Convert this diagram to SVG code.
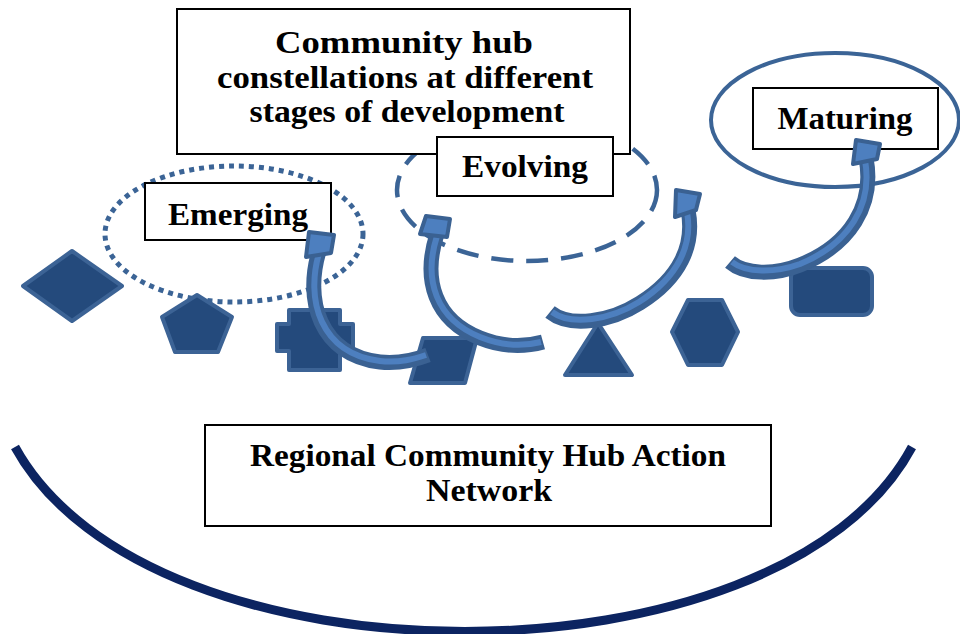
<svg xmlns="http://www.w3.org/2000/svg" width="960" height="634" viewBox="0 0 960 634">
  <defs>
    <style>
      .box { fill: #ffffff; stroke: #000000; stroke-width: 2; }
      .lbl { font-family: "Liberation Serif", "Times New Roman", serif; font-weight: bold; font-size: 32px; fill: #000000; text-anchor: middle; }
      .shape { fill: #244a7c; stroke: #3c6395; stroke-width: 4; stroke-linejoin: round; }
      .ring { fill: none; stroke: #3b6496; }
      .band-out { fill: none; stroke: #3a6192; stroke-width: 15; stroke-linecap: butt; }
      .band-in { fill: none; stroke: #4d7fbf; stroke-width: 6; stroke-linecap: butt; }
      .head { fill: #4d7fbf; stroke: #3a6192; stroke-width: 4; stroke-linejoin: round; }
    </style>
  </defs>

  <!-- network arc and its label -->
  <g id="network">
    <path d="M15,447 C150,693 780,693 912,447" fill="none" stroke="#0c2461" stroke-width="9"/>
    <rect class="box" x="205" y="425" width="566" height="101"/>
    <text class="lbl" x="488" y="466" textLength="476" lengthAdjust="spacingAndGlyphs">Regional Community Hub Action</text>
    <text class="lbl" x="489" y="501" textLength="126" lengthAdjust="spacingAndGlyphs">Network</text>
  </g>

  <!-- stage outlines -->
  <g id="emerging-ring">
    <ellipse class="ring" cx="234" cy="234" rx="129" ry="68" stroke-width="5" stroke-dasharray="5 5"/>
  </g>
  <g id="evolving-ring">
    <ellipse class="ring" cx="527" cy="190" rx="130" ry="71" stroke-width="4.5" stroke-dasharray="22 13"/>
  </g>
  <g id="maturing-ring">
    <ellipse class="ring" cx="835" cy="120" rx="124" ry="67" stroke-width="4"/>
  </g>

  <!-- heading -->
  <g id="title">
    <rect class="box" x="177" y="9" width="453" height="145"/>
    <text class="lbl" x="404" y="53" textLength="258" lengthAdjust="spacingAndGlyphs">Community hub</text>
    <text class="lbl" x="405" y="88" textLength="376" lengthAdjust="spacingAndGlyphs">constellations at different</text>
    <text class="lbl" x="407" y="122" textLength="315" lengthAdjust="spacingAndGlyphs">stages of development</text>
  </g>

  <!-- stage labels -->
  <g id="evolving">
    <rect class="box" x="437" y="137" width="176" height="59"/>
    <text class="lbl" x="525" y="177" textLength="126" lengthAdjust="spacingAndGlyphs">Evolving</text>
  </g>
  <g id="emerging">
    <rect class="box" x="145" y="183" width="186" height="57"/>
    <text class="lbl" x="238" y="225" textLength="140" lengthAdjust="spacingAndGlyphs">Emerging</text>
  </g>
  <g id="maturing">
    <rect class="box" x="753" y="88" width="185" height="61"/>
    <text class="lbl" x="845" y="129" textLength="135" lengthAdjust="spacingAndGlyphs">Maturing</text>
  </g>

  <!-- hubs -->
  <g id="hub-diamond"><polygon class="shape" points="23,286 72,251 122,286 72,321"/></g>
  <g id="hub-pentagon"><polygon class="shape" points="197,295 232,317 218,352 175,352 162,317"/></g>
  <g id="hub-cross"><polygon class="shape" points="289,310 340,310 340,324 353,324 353,351 340,351 340,370 289,370 289,351 277,351 277,324 289,324"/></g>
  <g id="hub-parallelogram"><polygon class="shape" points="423,338 477,338 465,383 410,383"/></g>
  <g id="hub-triangle"><polygon class="shape" points="598,323 632,375 565,375"/></g>
  <g id="hub-hexagon"><polygon class="shape" points="672,332 688,300 722,300 738,332 722,365 688,365"/></g>
  <g id="hub-rect"><rect class="shape" x="791" y="268" width="81" height="47" rx="9"/></g>

  <!-- growth arrows -->
  <g id="connectors">
    <g id="arrow-emerging">
      <path class="band-out" d="M320,248 C303,300 320,355 380,362 C400,364 415,360 428,355"/>
      <path class="band-in" d="M320,250 C304,300 321,354 380,361 C400,363 414,359 426,355"/>
      <polygon class="head" points="309,232 334,235 331,253 306,257"/>
    </g>
    <g id="arrow-evolving-a">
      <path class="band-out" d="M437,234 C422,280 435,320 480,338 C505,348 525,347 543,342"/>
      <path class="band-in" d="M437,236 C423,280 436,319 480,337 C505,347 525,346 541,342"/>
      <polygon class="head" points="426,216 450,219 447,237 420,234"/>
    </g>
    <g id="arrow-evolving-b">
      <path class="band-out" d="M550,312 C570,328 610,322 640,303 C680,278 695,245 688,210"/>
      <path class="band-in" d="M552,312 C571,326 610,320 639,302 C678,277 693,245 687,212"/>
      <polygon class="head" points="676,190 700,194 696,210 675,217"/>
    </g>
    <g id="arrow-maturing">
      <path class="band-out" d="M730,262 C745,275 775,275 800,265 C850,245 875,205 866,158"/>
      <path class="band-in" d="M732,262 C746,273 775,273 800,264 C849,244 873,205 865,160"/>
      <polygon class="head" points="856,140 880,144 877,159 853,164"/>
    </g>
  </g>
</svg>
